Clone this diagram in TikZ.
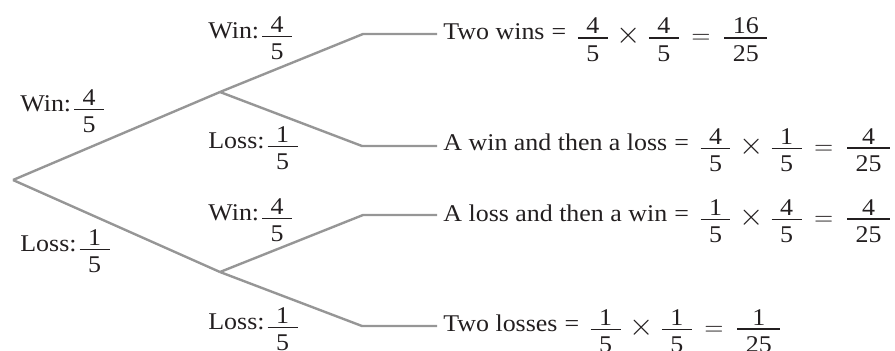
\documentclass[tikz,border=0pt]{standalone}
\usepackage{fontspec}
\setmainfont{Liberation Serif}[FakeStretch=1.08]
\definecolor{branch}{RGB}{150,150,150}
\definecolor{ink}{RGB}{35,31,32}
% fraction: bar 1pt above the baseline, wide bar, numerator close to the bar
\newcommand{\fr}[2]{\raisebox{-10.675pt}{\vbox{\offinterlineskip\halign{\hfil##\hfil\cr
  \hspace{4.25pt}#1\hspace{4.25pt}\cr
  \noalign{\kern1.7pt\hrule height0.8pt\kern3.2pt}
  \hspace{4.25pt}#2\hspace{4.25pt}\cr}}}}
\newcommand{\tms}{\hspace{4.4pt}\raisebox{-2pt}{\scalebox{1.3}{$\times$}}\hspace{4.1pt}}
\newcommand{\eqs}{\hspace{6.2pt}\raisebox{-2pt}{\scalebox{1.05}{$=$}}\hspace{6.9pt}}
\newcommand{\eqt}{\hspace{3.5pt}=\hspace{5.8pt}}
\begin{document}
\begin{tikzpicture}[x=0.5pt,y=-0.5pt,
  branchline/.style={draw=branch,line width=1.2pt},
  lbl/.style={anchor=base west,inner sep=0pt,text=ink,font=\fontsize{12}{14}\selectfont},
  res/.style={anchor=base west,inner sep=0pt,text=ink,font=\fontsize{12}{14}\selectfont}]
\useasboundingbox (0,0) rectangle (895,350);
% tree points
\coordinate (root) at (13,180);
\coordinate (a) at (220,92);
\coordinate (b) at (220,272);
\coordinate (s1) at (363,34);  \coordinate (t1) at (437,34);
\coordinate (s2) at (362,146); \coordinate (t2) at (437,146);
\coordinate (s3) at (363,215); \coordinate (t3) at (437,215);
\coordinate (s4) at (362,326); \coordinate (t4) at (437,326);
% branches
\draw[branchline] (root) -- (a);
\draw[branchline] (root) -- (b);
\draw[branchline] (a) -- (s1) -- (t1);
\draw[branchline] (a) -- (s2) -- (t2);
\draw[branchline] (b) -- (s3) -- (t3);
\draw[branchline] (b) -- (s4) -- (t4);
% branch labels
\node[lbl] (l1) at (20,111) {Win:\hspace{1.5pt}\fr{4}{5}};
\node[lbl] (l2) at (20,251) {Loss:\hspace{1.5pt}\fr{1}{5}};
\node[lbl] (l3) at (208,38) {Win:\hspace{1.5pt}\fr{4}{5}};
\node[lbl] (l4) at (208,148) {Loss:\hspace{1.5pt}\fr{1}{5}};
\node[lbl] (l5) at (208,220) {Win:\hspace{1.5pt}\fr{4}{5}};
\node[lbl] (l6) at (208,329) {Loss:\hspace{1.5pt}\fr{1}{5}};
% results
\node[res] (r1) at (443,39.7) {Two wins\eqt\fr{4}{5}\tms\fr{4}{5}\eqs\fr{16}{25}};
\node[res] (r2) at (443,150) {A win and then a loss\eqt\fr{4}{5}\tms\fr{1}{5}\eqs\fr{4}{25}};
\node[res] (r3) at (443,221) {A loss and then a win\eqt\fr{1}{5}\tms\fr{4}{5}\eqs\fr{4}{25}};
\node[res] (r4) at (443,331) {Two losses\eqt\fr{1}{5}\tms\fr{1}{5}\eqs\fr{1}{25}};
\end{tikzpicture}
\end{document}
